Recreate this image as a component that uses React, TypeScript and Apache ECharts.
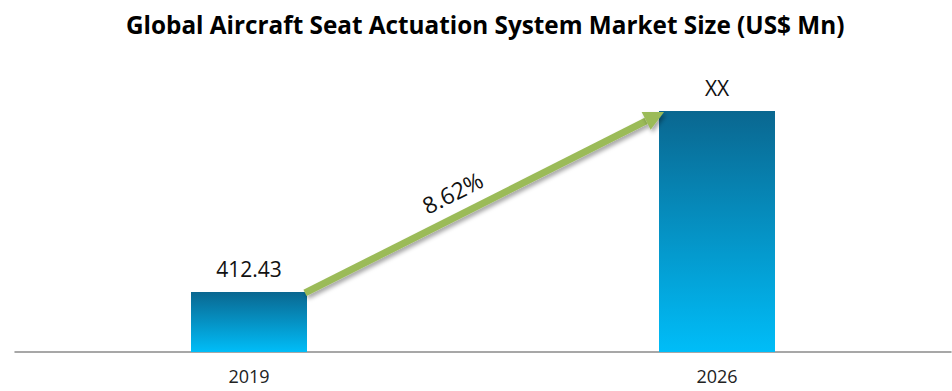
import React, { useEffect, useRef } from "react";
import * as echarts from "echarts";

const categories = ["2019", "2026"];
const values = [412.43, 1657];
const valueLabels = ["412.43", "XX"];
const cagrLabel = "8.62%";
const titleText = "Global Aircraft Seat Actuation System Market Size (US$ Mn)";

export default function App() {
  const ref = useRef<HTMLDivElement>(null);
  useEffect(() => {
    if (!ref.current) return;
    const chart = echarts.init(ref.current, null, { renderer: "svg" });
    const barWidth = 116;
    chart.setOption({
      animation: false,
      title: {
        text: titleText,
        left: 121,
        top: 7,
        textStyle: { fontFamily: "Open Sans", fontWeight: "bold", fontSize: 24.3, color: "#000" },
      },
      grid: { left: 15, right: 1, top: 61, bottom: 39 },
      xAxis: {
        type: "category",
        data: categories,
        axisLine: { lineStyle: { color: "#8a8a8a", width: 1.5 } },
        axisTick: { show: false },
        axisLabel: { fontFamily: "Open Sans", fontSize: 18, color: "#222", margin: 15 },
      },
      yAxis: { type: "value", min: 0, max: 2000, show: false, splitLine: { show: false } },
      series: [
        {
          type: "bar",
          data: values,
          barWidth,
          itemStyle: {
            color: new echarts.graphic.LinearGradient(0, 0, 0, 1, [
              { offset: 0, color: "#0a6790" },
              { offset: 1, color: "#00bdf8" },
            ]),
          },
          label: {
            show: true,
            position: "top",
            distance: 12,
            fontFamily: "Open Sans",
            fontSize: 21,
            color: "#111",
            formatter: (p: any) => valueLabels[p.dataIndex],
          },
        },
      ],
    });

    const p1 = chart.convertToPixel({ gridIndex: 0 }, [0, values[0]]) as number[];
    const p2 = chart.convertToPixel({ gridIndex: 0 }, [1, values[1]]) as number[];
    const x1 = p1[0] + barWidth / 2 - 2;
    const y1 = p1[1] + 1;
    const x2 = p2[0] - barWidth / 2 + 5;
    const y2 = p2[1] + 1;
    const ang = Math.atan2(y2 - y1, x2 - x1);
    const headLen = 20;
    const headHalf = 10;
    const bx = x2 - headLen * Math.cos(ang);
    const by = y2 - headLen * Math.sin(ang);
    const nx = -Math.sin(ang);
    const ny = Math.cos(ang);
    const green = "#9bbb59";
    const shadow = { shadowBlur: 4, shadowColor: "rgba(0,0,0,0.35)", shadowOffsetX: 2, shadowOffsetY: 3 };
    const mx = (x1 + x2) / 2;
    const my = (y1 + y2) / 2;
    chart.setOption({
      graphic: [
        {
          type: "line",
          shape: { x1, y1, x2: bx, y2: by },
          style: { stroke: green, lineWidth: 7, ...shadow },
          z: 10,
        },
        {
          type: "polygon",
          shape: {
            points: [
              [x2, y2],
              [bx + nx * headHalf, by + ny * headHalf],
              [bx - nx * headHalf, by - ny * headHalf],
            ],
          },
          style: { fill: green, ...shadow },
          z: 10,
        },
        {
          type: "text",
          x: mx - 32,
          y: my - 10,
          rotation: -ang,
          style: {
            text: cagrLabel,
            fontFamily: "Open Sans",
            fontSize: 23,
            fill: "#111",
            align: "center",
            verticalAlign: "middle",
          },
          z: 11,
        },
      ],
    });
    return () => chart.dispose();
  }, []);
  return (
    <div
      ref={ref}
      style={{ position: "absolute", left: 0, top: 0, width: 952, height: 391 }}
    />
  );
}
